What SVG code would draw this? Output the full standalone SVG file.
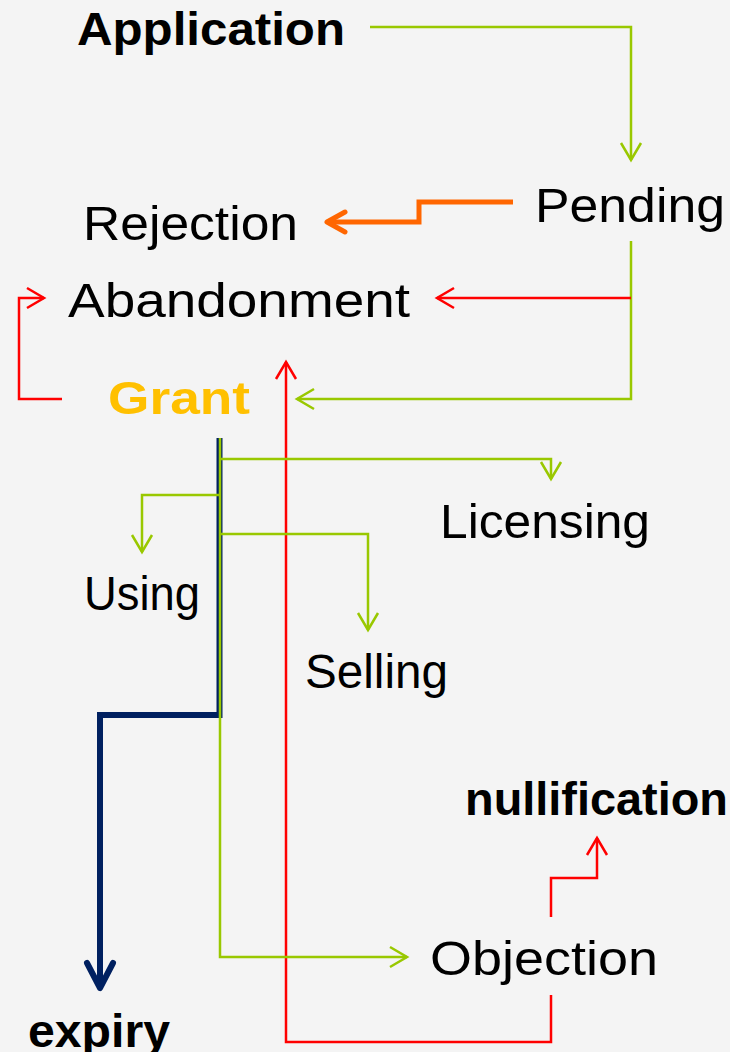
<svg xmlns="http://www.w3.org/2000/svg" width="730" height="1052" viewBox="0 0 730 1052">
  <style>
    .lbl { font-family: "Liberation Sans", Arial, sans-serif; font-size: 48px; fill: #000; }
    .bold { font-weight: bold; font-size: 46px; }
    .grant { fill: #ffc000; }
    .c { fill: none; stroke-linejoin: miter; }
    .green { stroke: #99c800; stroke-width: 2.5; }
    .red { stroke: #ff0000; stroke-width: 2.5; }
    .orange { stroke: #ff6600; stroke-width: 5; }
    .navy { stroke: #002060; stroke-width: 6; }
  </style>
  <defs>
    <marker id="arrGreen" markerUnits="userSpaceOnUse" viewBox="-20 -12 24 24" markerWidth="24" markerHeight="24" refX="0" refY="0" orient="auto" overflow="visible">
      <path d="M-17,-10 L0,0 L-17,10" fill="none" stroke="#99c800" stroke-width="2.5"/>
    </marker>
    <marker id="arrRed" markerUnits="userSpaceOnUse" viewBox="-20 -12 24 24" markerWidth="24" markerHeight="24" refX="0" refY="0" orient="auto" overflow="visible">
      <path d="M-17,-10 L0,0 L-17,10" fill="none" stroke="#ff0000" stroke-width="2.5"/>
    </marker>
    <marker id="arrOrange" markerUnits="userSpaceOnUse" viewBox="-24 -14 28 28" markerWidth="28" markerHeight="28" refX="0" refY="0" orient="auto" overflow="visible">
      <path d="M-18,-10 L0,0 L-18,10" fill="none" stroke="#ff6600" stroke-width="5" stroke-linecap="round" stroke-linejoin="round"/>
    </marker>
    <marker id="arrNavy" markerUnits="userSpaceOnUse" viewBox="-30 -16 34 32" markerWidth="34" markerHeight="32" refX="0" refY="0" orient="auto" overflow="visible">
      <path d="M-25,-13 L0,0 L-25,13" fill="none" stroke="#002060" stroke-width="6" stroke-linecap="round" stroke-linejoin="round"/>
    </marker>
  </defs>

  <rect width="730" height="1052" fill="#f4f4f4"/>

  <g id="connectors">
    <!-- Application to Pending -->
    <polyline class="c green" points="370,27 631,27 631,160" marker-end="url(#arrGreen)"/>
    <!-- Pending to Rejection -->
    <polyline class="c orange" points="513,202 419,202 419,222 327,222" marker-end="url(#arrOrange)"/>
    <!-- Pending to Grant -->
    <polyline class="c green" points="631,241 631,399 297,399" marker-end="url(#arrGreen)"/>
    <!-- Pending to Abandonment -->
    <polyline class="c red" points="631,298 437,298" marker-end="url(#arrRed)"/>
    <!-- Grant to Abandonment -->
    <polyline class="c red" points="62,399 19,399 19,298 44,298" marker-end="url(#arrRed)"/>
    <!-- Objection back to Abandonment -->
    <polyline class="c red" points="551,995 551,1042 286,1042 286,362" marker-end="url(#arrRed)"/>
    <!-- Objection to nullification -->
    <polyline class="c red" points="551,917 551,878 597,878 597,838" marker-end="url(#arrRed)"/>
    <!-- Grant trunk to expiry -->
    <polyline class="c navy" points="219.5,438 219.5,715 100,715 100,988" marker-end="url(#arrNavy)"/>
    <!-- Grant trunk to Objection -->
    <polyline class="c green" points="220,438 220,957 407,957" marker-end="url(#arrGreen)"/>
    <!-- Grant to Licensing -->
    <polyline class="c green" points="220,459 551,459 551,479" marker-end="url(#arrGreen)"/>
    <!-- Grant to Using -->
    <polyline class="c green" points="220,495 142,495 142,552" marker-end="url(#arrGreen)"/>
    <!-- Grant to Selling -->
    <polyline class="c green" points="220,534 368,534 368,630" marker-end="url(#arrGreen)"/>
  </g>

  <g id="application"><text class="lbl bold" x="77" y="45" textLength="268" lengthAdjust="spacingAndGlyphs">Application</text></g>
  <g id="pending"><text class="lbl" x="535" y="222" textLength="190" lengthAdjust="spacingAndGlyphs">Pending</text></g>
  <g id="rejection"><text class="lbl" x="83" y="240" textLength="215" lengthAdjust="spacingAndGlyphs">Rejection</text></g>
  <g id="abandonment"><text class="lbl" x="68" y="317" textLength="342" lengthAdjust="spacingAndGlyphs">Abandonment</text></g>
  <g id="grant"><text class="lbl bold grant" x="108" y="414" textLength="142" lengthAdjust="spacingAndGlyphs">Grant</text></g>
  <g id="licensing"><text class="lbl" x="440" y="538" textLength="210" lengthAdjust="spacingAndGlyphs">Licensing</text></g>
  <g id="using"><text class="lbl" x="84" y="610" textLength="116" lengthAdjust="spacingAndGlyphs">Using</text></g>
  <g id="selling"><text class="lbl" x="305" y="688" textLength="143" lengthAdjust="spacingAndGlyphs">Selling</text></g>
  <g id="nullification"><text class="lbl bold" x="465" y="815" textLength="263" lengthAdjust="spacingAndGlyphs">nullification</text></g>
  <g id="objection"><text class="lbl" x="430" y="975" textLength="228" lengthAdjust="spacingAndGlyphs">Objection</text></g>
  <g id="expiry"><text class="lbl bold" x="28" y="1047" textLength="142" lengthAdjust="spacingAndGlyphs">expiry</text></g>
</svg>
